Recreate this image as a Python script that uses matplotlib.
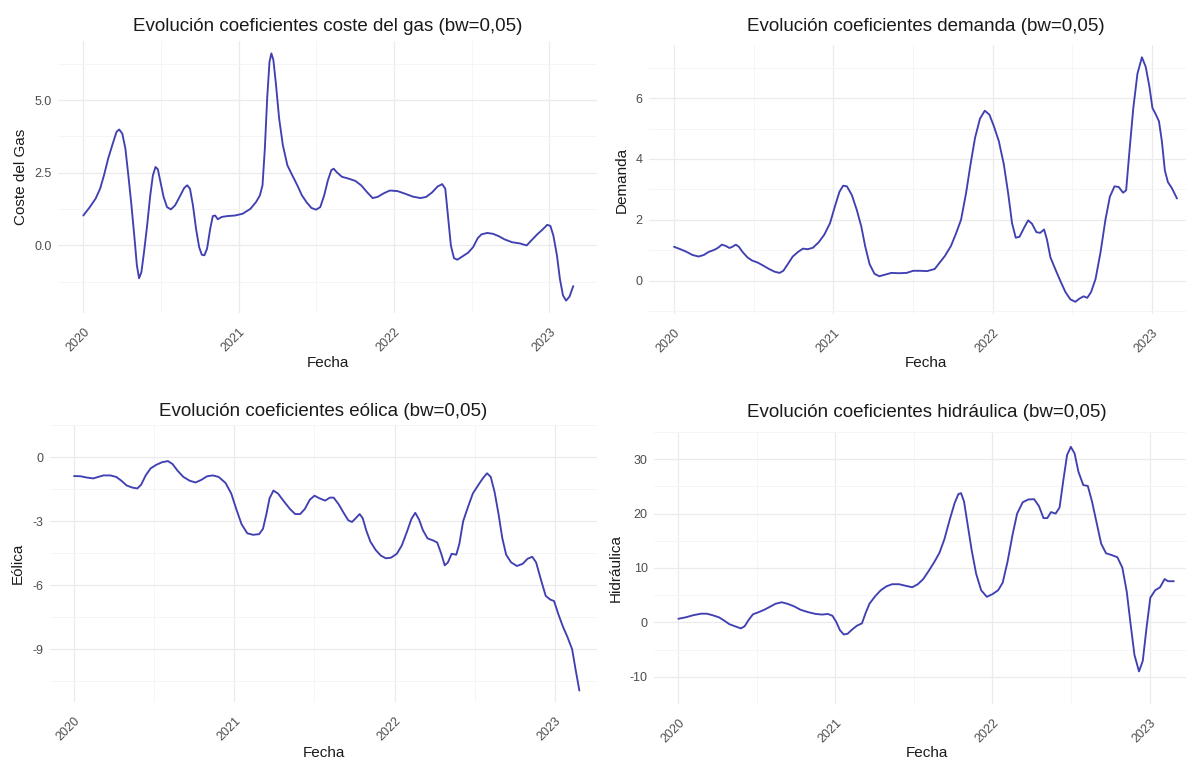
import matplotlib
matplotlib.use("Agg")
import matplotlib.pyplot as plt

plt.rcParams['font.family'] = ['Liberation Sans', 'DejaVu Sans']

# ---------------- data (decimal year, coefficient) ----------------
gas_t = [2020.000, 2020.042, 2020.079, 2020.108, 2020.133, 2020.160, 2020.190, 2020.214,
         2020.231, 2020.251, 2020.271, 2020.290, 2020.310, 2020.330, 2020.345, 2020.359,
         2020.374, 2020.391, 2020.411, 2020.431, 2020.448, 2020.465, 2020.480, 2020.497,
         2020.517, 2020.539, 2020.564, 2020.591, 2020.620, 2020.650, 2020.669, 2020.687,
         2020.706, 2020.726, 2020.746, 2020.763, 2020.780, 2020.797, 2020.817, 2020.834,
         2020.849, 2020.866, 2020.891, 2020.928, 2020.977, 2021.026, 2021.076, 2021.112,
         2021.137, 2021.154, 2021.169, 2021.184, 2021.199, 2021.211, 2021.224, 2021.241,
         2021.261, 2021.285, 2021.314, 2021.346, 2021.378, 2021.408, 2021.440, 2021.469,
         2021.499, 2021.526, 2021.551, 2021.575, 2021.597, 2021.612, 2021.634, 2021.666,
         2021.708, 2021.752, 2021.789, 2021.826, 2021.863, 2021.895, 2021.937, 2021.974,
         2022.023, 2022.072, 2022.122, 2022.171, 2022.208, 2022.245, 2022.282, 2022.311,
         2022.331, 2022.348, 2022.367, 2022.387, 2022.409, 2022.441, 2022.478, 2022.510,
         2022.540, 2022.564, 2022.601, 2022.638, 2022.675, 2022.712, 2022.761, 2022.811,
         2022.855, 2022.885, 2022.921, 2022.958, 2022.988, 2023.008, 2023.027, 2023.050,
         2023.069, 2023.089, 2023.109, 2023.131, 2023.155]
gas_v = [1.03, 1.32, 1.61, 1.95, 2.41, 2.99, 3.51, 3.91,
         3.99, 3.85, 3.33, 2.41, 1.38, 0.23, -0.69, -1.13,
         -0.92, -0.23, 0.69, 1.72, 2.41, 2.70, 2.62, 2.18,
         1.67, 1.32, 1.24, 1.38, 1.67, 1.98, 2.07, 1.95,
         1.38, 0.57, -0.06, -0.32, -0.34, -0.11, 0.57, 1.01,
         1.03, 0.90, 0.98, 1.01, 1.03, 1.09, 1.26, 1.49,
         1.72, 2.07, 3.33, 5.06, 6.32, 6.61, 6.38, 5.52,
         4.37, 3.45, 2.76, 2.41, 2.07, 1.72, 1.47, 1.29,
         1.23, 1.32, 1.72, 2.24, 2.59, 2.64, 2.51, 2.36,
         2.30, 2.22, 2.07, 1.84, 1.63, 1.67, 1.80, 1.89,
         1.87, 1.78, 1.68, 1.63, 1.67, 1.82, 2.03, 2.11,
         1.95, 1.03, 0.00, -0.44, -0.49, -0.38, -0.25, -0.06,
         0.25, 0.38, 0.43, 0.40, 0.32, 0.21, 0.11, 0.07,
         0.00, 0.17, 0.37, 0.55, 0.71, 0.67, 0.34, -0.34,
         -1.15, -1.72, -1.90, -1.76, -1.40]

dem_t = [2020.000, 2020.040, 2020.076, 2020.116, 2020.154, 2020.187, 2020.217, 2020.253,
         2020.277, 2020.300, 2020.324, 2020.348, 2020.366, 2020.388, 2020.407, 2020.430,
         2020.461, 2020.489, 2020.525, 2020.560, 2020.596, 2020.631, 2020.662, 2020.686,
         2020.714, 2020.745, 2020.778, 2020.809, 2020.839, 2020.872, 2020.908, 2020.943,
         2020.979, 2021.009, 2021.038, 2021.061, 2021.085, 2021.116, 2021.147, 2021.175,
         2021.199, 2021.227, 2021.258, 2021.288, 2021.322, 2021.364, 2021.411, 2021.459,
         2021.501, 2021.541, 2021.589, 2021.636, 2021.667, 2021.700, 2021.738, 2021.771,
         2021.801, 2021.832, 2021.861, 2021.889, 2021.920, 2021.950, 2021.979, 2022.007,
         2022.038, 2022.069, 2022.097, 2022.121, 2022.144, 2022.168, 2022.196, 2022.222,
         2022.246, 2022.274, 2022.298, 2022.322, 2022.340, 2022.362, 2022.392, 2022.423,
         2022.456, 2022.487, 2022.518, 2022.546, 2022.570, 2022.593, 2022.617, 2022.645,
         2022.676, 2022.707, 2022.735, 2022.764, 2022.790, 2022.818, 2022.837, 2022.858,
         2022.882, 2022.908, 2022.936, 2022.960, 2022.983, 2023.002, 2023.024, 2023.043,
         2023.061, 2023.080, 2023.099, 2023.125, 2023.156]
dem_v = [1.11, 1.03, 0.95, 0.84, 0.79, 0.84, 0.94, 1.01,
         1.08, 1.18, 1.14, 1.07, 1.11, 1.18, 1.11, 0.94,
         0.76, 0.66, 0.59, 0.49, 0.38, 0.29, 0.25, 0.32,
         0.54, 0.79, 0.94, 1.05, 1.03, 1.08, 1.26, 1.51,
         1.89, 2.43, 2.92, 3.12, 3.10, 2.81, 2.32, 1.78,
         1.14, 0.54, 0.22, 0.14, 0.19, 0.25, 0.24, 0.25,
         0.32, 0.32, 0.31, 0.38, 0.59, 0.81, 1.14, 1.57,
         2.00, 2.86, 3.84, 4.70, 5.33, 5.59, 5.46, 5.08,
         4.59, 3.84, 2.86, 1.89, 1.41, 1.44, 1.73, 1.98,
         1.87, 1.59, 1.57, 1.68, 1.35, 0.76, 0.38, 0.00,
         -0.38, -0.62, -0.70, -0.59, -0.52, -0.57, -0.38, 0.05,
         0.92, 2.00, 2.76, 3.10, 3.08, 2.89, 2.97, 4.27,
         5.68, 6.81, 7.35, 7.03, 6.38, 5.68, 5.46, 5.24,
         4.59, 3.62, 3.24, 3.03, 2.70]

eol_t = [2020.000, 2020.041, 2020.079, 2020.120, 2020.151, 2020.184, 2020.227, 2020.263,
         2020.294, 2020.328, 2020.364, 2020.395, 2020.419, 2020.447, 2020.478, 2020.514,
         2020.550, 2020.586, 2020.615, 2020.646, 2020.682, 2020.722, 2020.758, 2020.794,
         2020.830, 2020.866, 2020.902, 2020.945, 2020.981, 2021.012, 2021.045, 2021.081,
         2021.117, 2021.155, 2021.179, 2021.201, 2021.220, 2021.244, 2021.273, 2021.309,
         2021.347, 2021.380, 2021.411, 2021.440, 2021.471, 2021.500, 2021.531, 2021.567,
         2021.596, 2021.620, 2021.651, 2021.682, 2021.711, 2021.734, 2021.758, 2021.782,
         2021.801, 2021.823, 2021.849, 2021.883, 2021.914, 2021.945, 2021.978, 2022.014,
         2022.045, 2022.077, 2022.105, 2022.129, 2022.153, 2022.177, 2022.206, 2022.239,
         2022.266, 2022.290, 2022.313, 2022.333, 2022.356, 2022.385, 2022.404, 2022.428,
         2022.457, 2022.488, 2022.524, 2022.553, 2022.577, 2022.600, 2022.624, 2022.648,
         2022.672, 2022.696, 2022.727, 2022.763, 2022.799, 2022.830, 2022.859, 2022.883,
         2022.912, 2022.943, 2022.971, 2022.995, 2023.022, 2023.050, 2023.079, 2023.108,
         2023.129, 2023.153]
eol_v = [-0.89, -0.90, -0.96, -1.00, -0.93, -0.86, -0.86, -0.93,
         -1.10, -1.33, -1.43, -1.47, -1.29, -0.86, -0.53, -0.36,
         -0.24, -0.19, -0.33, -0.64, -0.93, -1.11, -1.19, -1.07,
         -0.90, -0.86, -0.93, -1.21, -1.71, -2.43, -3.14, -3.57,
         -3.64, -3.61, -3.36, -2.64, -1.93, -1.57, -1.71, -2.07,
         -2.43, -2.67, -2.67, -2.43, -2.00, -1.81, -1.93, -2.04,
         -1.90, -1.90, -2.21, -2.61, -2.96, -3.04, -2.86, -2.67,
         -2.86, -3.43, -3.96, -4.36, -4.61, -4.74, -4.71, -4.53,
         -4.14, -3.50, -2.90, -2.61, -2.93, -3.43, -3.81, -3.90,
         -4.00, -4.50, -5.07, -4.93, -4.53, -4.57, -4.07, -3.00,
         -2.36, -1.71, -1.29, -0.97, -0.76, -0.93, -1.64, -2.64,
         -3.79, -4.57, -4.93, -5.10, -5.00, -4.76, -4.67, -4.93,
         -5.71, -6.50, -6.67, -6.74, -7.36, -7.93, -8.43, -9.00,
         -9.93, -10.93]

hid_t = [2020.000, 2020.048, 2020.096, 2020.145, 2020.181, 2020.217, 2020.258, 2020.289,
         2020.325, 2020.361, 2020.398, 2020.422, 2020.446, 2020.475, 2020.511, 2020.547,
         2020.583, 2020.619, 2020.658, 2020.694, 2020.735, 2020.778, 2020.827, 2020.875,
         2020.916, 2020.952, 2020.981, 2021.005, 2021.029, 2021.053, 2021.077, 2021.108,
         2021.137, 2021.169, 2021.193, 2021.217, 2021.253, 2021.289, 2021.325, 2021.361,
         2021.405, 2021.446, 2021.489, 2021.525, 2021.559, 2021.595, 2021.631, 2021.663,
         2021.694, 2021.728, 2021.759, 2021.783, 2021.800, 2021.819, 2021.843, 2021.867,
         2021.896, 2021.928, 2021.964, 2022.000, 2022.036, 2022.065, 2022.096, 2022.128,
         2022.157, 2022.193, 2022.229, 2022.265, 2022.296, 2022.325, 2022.349, 2022.373,
         2022.402, 2022.427, 2022.451, 2022.475, 2022.499, 2022.523, 2022.547, 2022.578,
         2022.607, 2022.634, 2022.663, 2022.692, 2022.723, 2022.759, 2022.795, 2022.827,
         2022.855, 2022.880, 2022.904, 2022.933, 2022.957, 2022.981, 2023.005, 2023.036,
         2023.067, 2023.096, 2023.118, 2023.155]
hid_v = [0.66, 0.94, 1.33, 1.60, 1.60, 1.33, 0.94, 0.39,
         -0.33, -0.72, -1.10, -0.72, 0.39, 1.49, 1.88, 2.32,
         2.87, 3.43, 3.70, 3.43, 2.98, 2.32, 1.88, 1.55,
         1.44, 1.55, 1.22, 0.11, -1.44, -2.21, -2.10, -1.27,
         -0.61, -0.17, 1.77, 3.43, 4.81, 5.91, 6.63, 7.02,
         7.02, 6.74, 6.46, 7.02, 7.96, 9.50, 11.16, 12.82,
         15.30, 18.90, 21.93, 23.59, 23.76, 22.21, 17.79, 13.37,
         8.95, 5.91, 4.70, 5.19, 5.91, 7.29, 11.16, 16.13,
         20.00, 22.10, 22.60, 22.65, 21.38, 19.17, 19.17, 20.28,
         20.00, 21.10, 26.08, 30.77, 32.27, 31.05, 27.73, 25.25,
         25.08, 22.21, 18.34, 14.48, 12.71, 12.38, 11.99, 10.06,
         5.64, -0.44, -5.97, -9.01, -7.07, -0.99, 4.53, 5.91,
         6.46, 7.96, 7.57, 7.57]

year_ticks = [2020, 2021, 2022, 2023]
year_labels = ["2020", "2021", "2022", "2023"]
year_minor = [2020.5, 2021.5, 2022.5]

gas_yticks = [0.0, 2.5, 5.0]
gas_ylabels = ["0.0", "2.5", "5.0"]
dem_yticks = [0, 2, 4, 6]
dem_ylabels = ["0", "2", "4", "6"]
eol_yticks = [-9, -6, -3, 0]
eol_ylabels = ["-9", "-6", "-3", "0"]
hid_yticks = [-10, 0, 10, 20, 30]
hid_ylabels = ["-10", "0", "10", "20", "30"]

titles = ["Evolución coeficientes coste del gas (bw=0,05)",
          "Evolución coeficientes demanda (bw=0,05)",
          "Evolución coeficientes eólica (bw=0,05)",
          "Evolución coeficientes hidráulica (bw=0,05)"]
ylabels = ["Coste del Gas", "Demanda", "Eólica", "Hidráulica"]
xlabel = "Fecha"

# ---------------- layout (pixels in a 1186x760 canvas) ----------------
W, H = 1186, 760
LINE = "#4040B2"
GRID_MAJ = "#EBEBEB"
GRID_MIN = "#F4F4F4"

panels = [
    dict(t=gas_t, v=gas_v, yt=gas_yticks, yl=gas_ylabels, box=(58, 597, 41, 313),
         xlim=(2019.837, 2023.308), ylx=21.5, xly=363, tty=31),
    dict(t=dem_t, v=dem_v, yt=dem_yticks, yl=dem_ylabels, box=(649, 1202, 45, 314),
         xlim=(2019.843, 2023.313), ylx=621.5, xly=363, tty=31),
    dict(t=eol_t, v=eol_v, yt=eol_yticks, yl=eol_ylabels, box=(50, 597, 425, 702),
         xlim=(2019.850, 2023.263), ylx=18, xly=753, tty=416),
    dict(t=hid_t, v=hid_v, yt=hid_yticks, yl=hid_ylabels, box=(654, 1199, 432, 704),
         xlim=(2019.845, 2023.315), ylx=616, xly=753, tty=417),
]

fig = plt.figure(figsize=(W / 100, H / 100), dpi=100)
fig.patch.set_facecolor("white")

for i, p in enumerate(panels):
    l, r, t, b = p["box"]
    ax = fig.add_axes([l / W, 1 - b / H, (r - l) / W, (b - t) / H])
    ax.set_facecolor("white")
    ax.plot(p["t"], p["v"], color=LINE, lw=1.35, solid_joinstyle="round",
            solid_capstyle="round", antialiased=True, zorder=3)

    vmin, vmax = min(p["v"]), max(p["v"])
    rng = vmax - vmin
    ax.set_ylim(vmin - 0.05 * rng, vmax + 0.05 * rng)
    ax.set_xlim(*p["xlim"])

    yt = p["yt"]
    step = yt[1] - yt[0]
    yminor = [yt[0] - step / 2] + [y + step / 2 for y in yt]
    ax.set_yticks(yt)
    ax.set_yticklabels(p["yl"])
    ax.set_yticks(yminor, minor=True)
    ax.set_xticks(year_ticks)
    ax.set_xticklabels(year_labels, rotation=45, ha="right", va="top",
                       rotation_mode="anchor")
    ax.set_xticks(year_minor, minor=True)

    ax.grid(True, which="major", color=GRID_MAJ, lw=0.9, zorder=0)
    ax.grid(True, which="minor", color=GRID_MIN, lw=0.6, zorder=0)
    ax.set_axisbelow(True)
    for s in ax.spines.values():
        s.set_visible(False)
    ax.tick_params(which="both", length=0)
    ax.tick_params(axis="y", labelsize=9, labelcolor="#4D4D4D", pad=4.5)
    ax.tick_params(axis="x", labelsize=9, labelcolor="#4D4D4D", pad=9)

    ax.set_title(titles[i], fontsize=13.5, color="#1A1A1A", pad=0,
                 y=(b - p["tty"]) / (b - t))
    ax.set_ylabel(ylabels[i], fontsize=11, color="#1A1A1A", va="center")
    ax.yaxis.set_label_coords((p["ylx"] - l) / (r - l), 0.5)
    ax.set_xlabel(xlabel, fontsize=11, color="#1A1A1A", va="center")
    ax.xaxis.set_label_coords(0.5, (b - p["xly"]) / (b - t))

fig.savefig("out.png", dpi=100, facecolor="white")
